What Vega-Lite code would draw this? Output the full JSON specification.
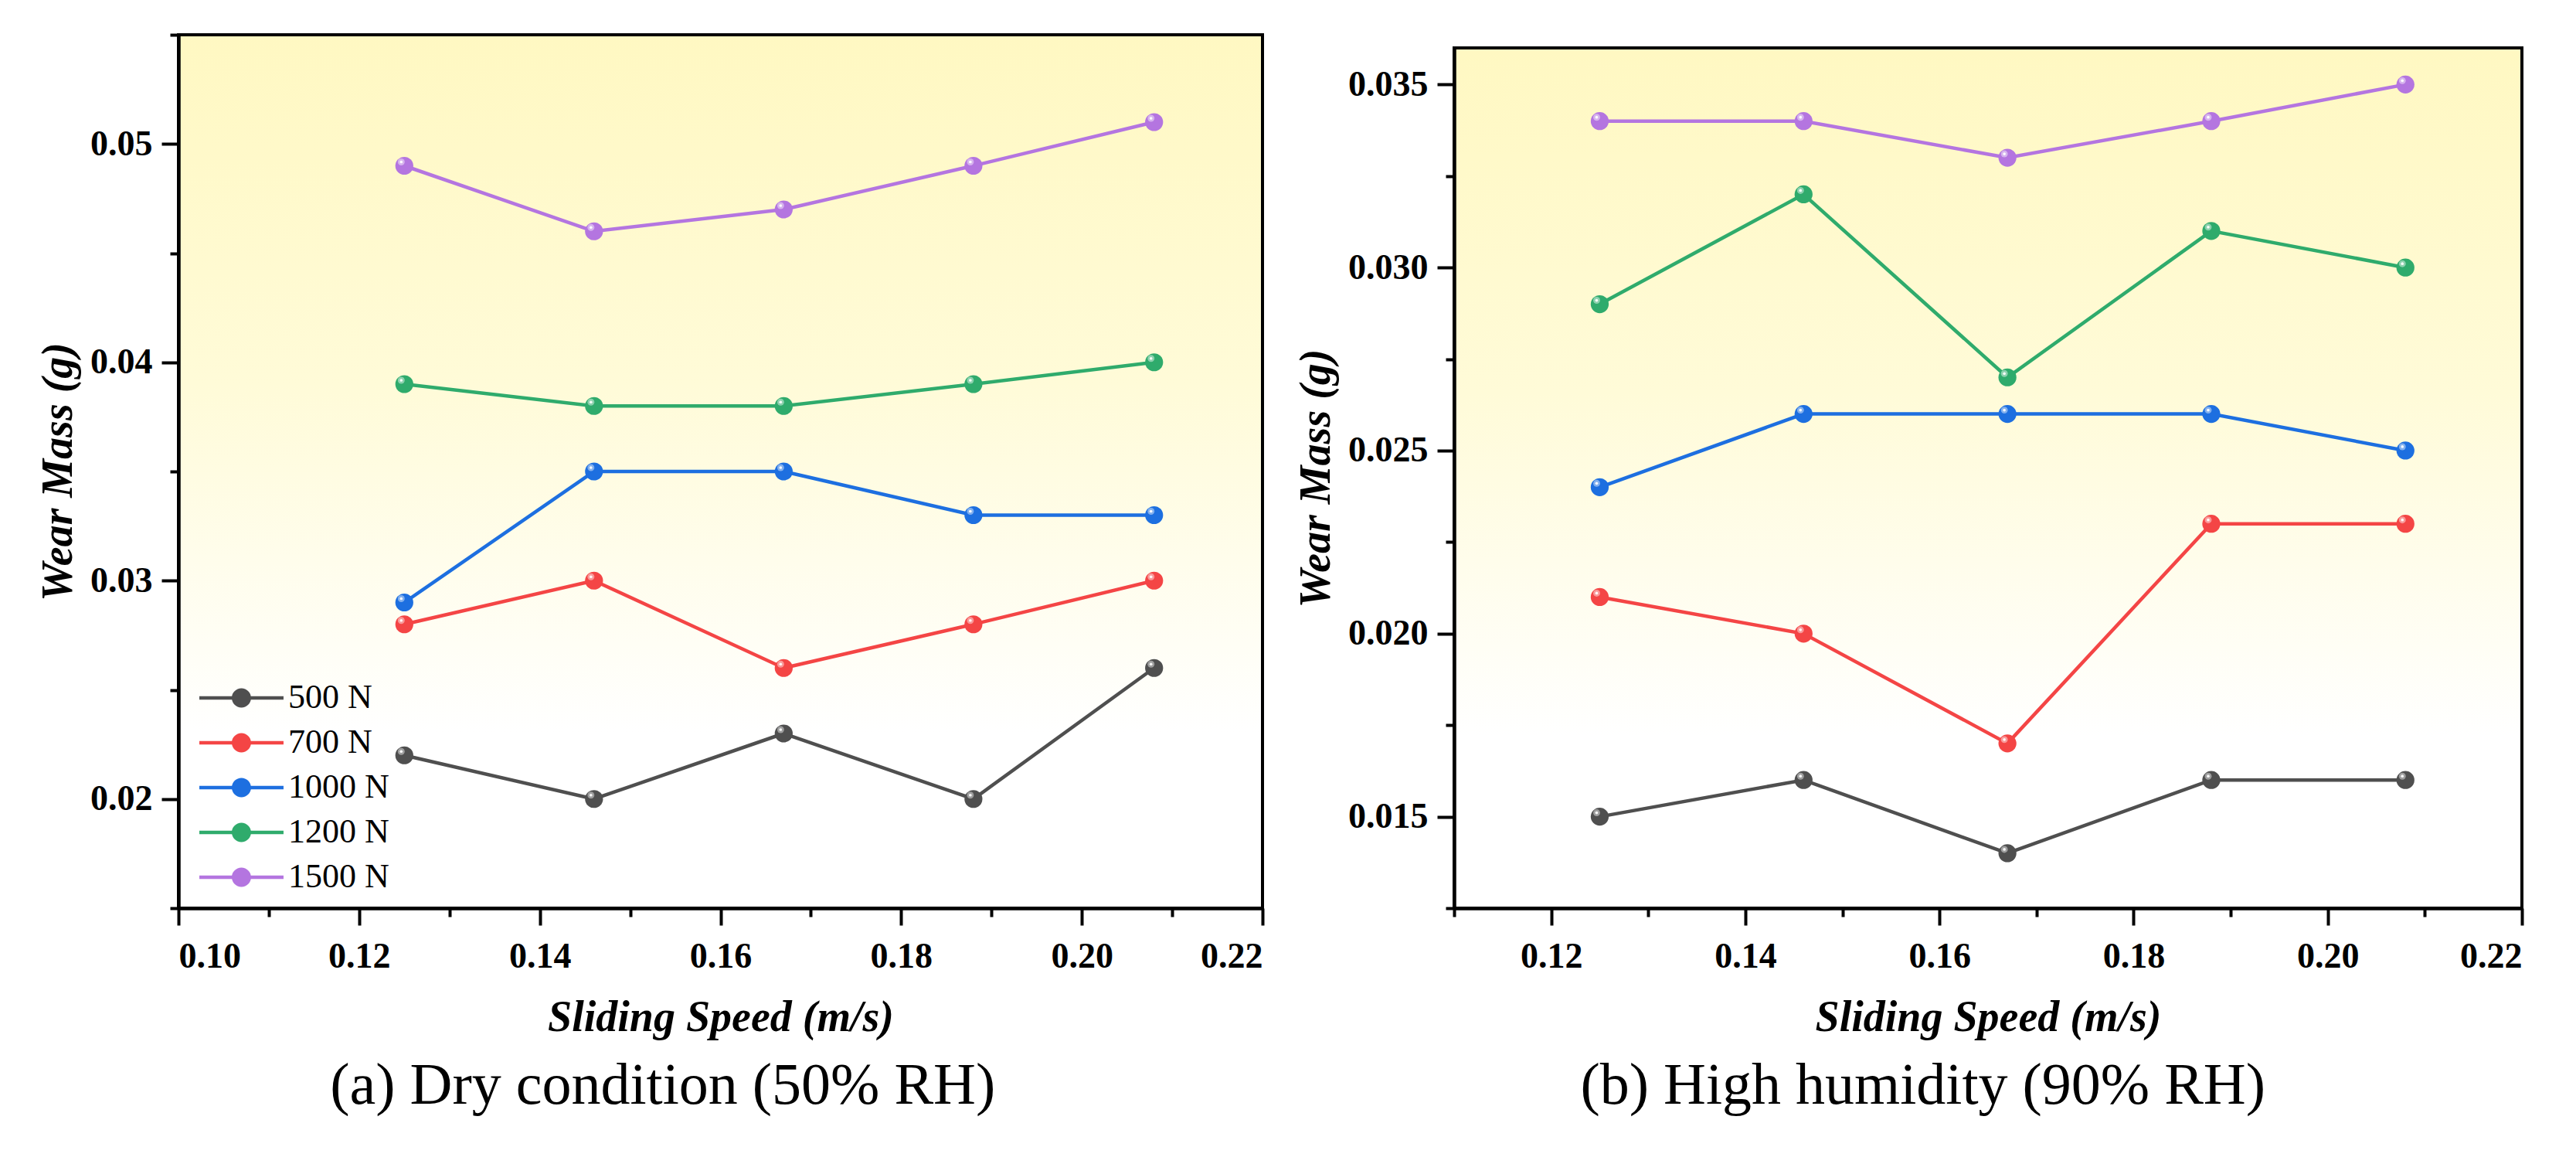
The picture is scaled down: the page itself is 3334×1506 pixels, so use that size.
{
  "$schema": "https://vega.github.io/schema/vega-lite/v6.json",
  "background": "white",
  "padding": {"left": 45, "top": 41, "right": 5, "bottom": 5},
  "datasets": {
    "dry": [
      {"speed": 0.125, "load": "500 N", "mass": 0.022},
      {"speed": 0.146, "load": "500 N", "mass": 0.020},
      {"speed": 0.167, "load": "500 N", "mass": 0.023},
      {"speed": 0.188, "load": "500 N", "mass": 0.020},
      {"speed": 0.208, "load": "500 N", "mass": 0.026},
      {"speed": 0.125, "load": "700 N", "mass": 0.028},
      {"speed": 0.146, "load": "700 N", "mass": 0.030},
      {"speed": 0.167, "load": "700 N", "mass": 0.026},
      {"speed": 0.188, "load": "700 N", "mass": 0.028},
      {"speed": 0.208, "load": "700 N", "mass": 0.030},
      {"speed": 0.125, "load": "1000 N", "mass": 0.029},
      {"speed": 0.146, "load": "1000 N", "mass": 0.035},
      {"speed": 0.167, "load": "1000 N", "mass": 0.035},
      {"speed": 0.188, "load": "1000 N", "mass": 0.033},
      {"speed": 0.208, "load": "1000 N", "mass": 0.033},
      {"speed": 0.125, "load": "1200 N", "mass": 0.039},
      {"speed": 0.146, "load": "1200 N", "mass": 0.038},
      {"speed": 0.167, "load": "1200 N", "mass": 0.038},
      {"speed": 0.188, "load": "1200 N", "mass": 0.039},
      {"speed": 0.208, "load": "1200 N", "mass": 0.040},
      {"speed": 0.125, "load": "1500 N", "mass": 0.049},
      {"speed": 0.146, "load": "1500 N", "mass": 0.046},
      {"speed": 0.167, "load": "1500 N", "mass": 0.047},
      {"speed": 0.188, "load": "1500 N", "mass": 0.049},
      {"speed": 0.208, "load": "1500 N", "mass": 0.051}
    ],
    "humid": [
      {"speed": 0.125, "load": "500 N", "mass": 0.015},
      {"speed": 0.146, "load": "500 N", "mass": 0.016},
      {"speed": 0.167, "load": "500 N", "mass": 0.014},
      {"speed": 0.188, "load": "500 N", "mass": 0.016},
      {"speed": 0.208, "load": "500 N", "mass": 0.016},
      {"speed": 0.125, "load": "700 N", "mass": 0.021},
      {"speed": 0.146, "load": "700 N", "mass": 0.020},
      {"speed": 0.167, "load": "700 N", "mass": 0.017},
      {"speed": 0.188, "load": "700 N", "mass": 0.023},
      {"speed": 0.208, "load": "700 N", "mass": 0.023},
      {"speed": 0.125, "load": "1000 N", "mass": 0.024},
      {"speed": 0.146, "load": "1000 N", "mass": 0.026},
      {"speed": 0.167, "load": "1000 N", "mass": 0.026},
      {"speed": 0.188, "load": "1000 N", "mass": 0.026},
      {"speed": 0.208, "load": "1000 N", "mass": 0.025},
      {"speed": 0.125, "load": "1200 N", "mass": 0.029},
      {"speed": 0.146, "load": "1200 N", "mass": 0.032},
      {"speed": 0.167, "load": "1200 N", "mass": 0.027},
      {"speed": 0.188, "load": "1200 N", "mass": 0.031},
      {"speed": 0.208, "load": "1200 N", "mass": 0.030},
      {"speed": 0.125, "load": "1500 N", "mass": 0.034},
      {"speed": 0.146, "load": "1500 N", "mass": 0.034},
      {"speed": 0.167, "load": "1500 N", "mass": 0.033},
      {"speed": 0.188, "load": "1500 N", "mass": 0.034},
      {"speed": 0.208, "load": "1500 N", "mass": 0.035}
    ]
  },
  "bounds": "flush",
  "spacing": 248,
  "resolve": {"legend": {"color": "independent"}},
  "hconcat": [
    {
      "width": 1403,
      "height": 1130,
      "data": {"name": "dry"},
      "title": {"text": "(a) Dry condition (50% RH)", "orient": "bottom", "anchor": "middle", "frame": "bounds", "offset": 24, "dx": 16},
      "encoding": {
        "x": {
          "field": "speed", "type": "quantitative",
          "scale": {"domain": [0.10, 0.22], "nice": false, "zero": false},
          "axis": {
            "title": "Sliding Speed (m/s)",
            "values": [0.10, 0.11, 0.12, 0.13, 0.14, 0.15, 0.16, 0.17, 0.18, 0.19, 0.20, 0.21, 0.22],
            "labelExpr": "round(datum.value*100) % 2 == 0 ? format(datum.value, '.2f') : ''",
            "tickSize": {"condition": {"test": "round(datum.value*100) % 2 == 0", "value": 22}, "value": 11}
          }
        },
        "y": {
          "field": "mass", "type": "quantitative",
          "scale": {"domain": [0.015, 0.055], "nice": false, "zero": false},
          "axis": {
            "title": "Wear Mass (g)",
            "values": [0.015, 0.02, 0.025, 0.03, 0.035, 0.04, 0.045, 0.05, 0.055],
            "labelExpr": "round(datum.value*1000) % 10 == 0 ? format(datum.value, '.2f') : ''",
            "tickSize": {"condition": {"test": "round(datum.value*1000) % 10 == 0", "value": 22}, "value": 11}
          }
        },
        "color": {
          "field": "load", "type": "nominal",
          "scale": {"domain": ["500 N", "700 N", "1000 N", "1200 N", "1500 N"], "range": ["#4f4f4f", "#f44545", "#1d6fe0", "#2fab6c", "#b475e0"]},
          "legend": {
            "orient": "bottom-left", "title": null, "offset": 18, "padding": 0,
            "symbolType": "M-1,-0.173L7.38,-0.173L7.38,0.173L-1,0.173Z M2.23,0 A0.96,0.96 0 1,1 4.15,0 A0.96,0.96 0 1,1 2.23,0 Z",
            "symbolSize": 676, "symbolStrokeWidth": 0, "symbolOpacity": 1,
            "labelFont": "Liberation Serif", "labelFontSize": 44, "labelColor": "black",
            "labelOffset": 80, "rowPadding": 14
          }
        }
      },
      "layer": [
        {"mark": {"type": "line", "strokeWidth": 4.5}},
        {"mark": {"type": "point", "filled": true, "size": 540, "opacity": 1}},
        {
          "mark": {"type": "point", "filled": true, "size": 80, "opacity": 0.45, "xOffset": -4, "yOffset": -5},
          "encoding": {"color": {"value": "white"}}
        },
        {
          "mark": {"type": "point", "filled": true, "size": 14, "opacity": 0.9, "xOffset": -4, "yOffset": -5},
          "encoding": {"color": {"value": "white"}}
        }
      ]
    },
    {
      "bounds": "flush",
      "spacing": 16,
      "vconcat": [
        {
          "width": 1382,
          "height": 1,
          "data": {"values": [{}]},
          "mark": {"type": "point", "opacity": 0, "size": 1},
          "view": {"stroke": null, "fill": null}
        },
        {
          "width": 1382,
          "height": 1113,
          "data": {"name": "humid"},
          "title": {"text": "(b) High humidity (90% RH)", "orient": "bottom", "anchor": "middle", "frame": "bounds", "offset": 24, "dx": 18},
          "encoding": {
            "x": {
              "field": "speed", "type": "quantitative",
              "scale": {"domain": [0.11, 0.22], "nice": false, "zero": false},
              "axis": {
                "title": "Sliding Speed (m/s)",
                "values": [0.11, 0.12, 0.13, 0.14, 0.15, 0.16, 0.17, 0.18, 0.19, 0.20, 0.21, 0.22],
                "labelExpr": "round(datum.value*100) % 2 == 0 ? format(datum.value, '.2f') : ''",
                "tickSize": {"condition": {"test": "round(datum.value*100) % 2 == 0", "value": 22}, "value": 11}
              }
            },
            "y": {
              "field": "mass", "type": "quantitative",
              "scale": {"domain": [0.0125, 0.036], "nice": false, "zero": false},
              "axis": {
                "title": "Wear Mass (g)",
                "values": [0.0125, 0.015, 0.0175, 0.02, 0.0225, 0.025, 0.0275, 0.03, 0.0325, 0.035],
                "labelExpr": "round(datum.value*10000) % 50 == 0 ? format(datum.value, '.3f') : ''",
                "tickSize": {"condition": {"test": "round(datum.value*10000) % 50 == 0", "value": 22}, "value": 11}
              }
            },
            "color": {"field": "load", "type": "nominal", "legend": null}
          },
          "layer": [
            {"mark": {"type": "line", "strokeWidth": 4.5}},
            {"mark": {"type": "point", "filled": true, "size": 540, "opacity": 1}},
            {
              "mark": {"type": "point", "filled": true, "size": 80, "opacity": 0.45, "xOffset": -4, "yOffset": -5},
              "encoding": {"color": {"value": "white"}}
            },
            {
              "mark": {"type": "point", "filled": true, "size": 14, "opacity": 0.9, "xOffset": -4, "yOffset": -5},
              "encoding": {"color": {"value": "white"}}
            }
          ]
        }
      ]
    }
  ],
  "config": {
    "font": "Liberation Serif",
    "view": {
      "stroke": "black",
      "strokeWidth": 4,
      "fill": {
        "gradient": "linear", "x1": 0, "y1": 0, "x2": 0, "y2": 1,
        "stops": [
          {"offset": 0, "color": "#fff8c2"},
          {"offset": 0.4, "color": "#fffbd8"},
          {"offset": 0.8, "color": "#ffffff"},
          {"offset": 1, "color": "#ffffff"}
        ]
      }
    },
    "axis": {
      "grid": false,
      "domainColor": "black",
      "domainWidth": 4.5,
      "tickColor": "black",
      "tickWidth": 4,
      "labelFont": "Liberation Serif",
      "labelFontWeight": "bold",
      "labelFontSize": 46,
      "labelColor": "black",
      "titleFont": "Times New Roman, Liberation Serif, serif",
      "titleFontWeight": "bold",
      "titleFontStyle": "italic",
      "titleFontSize": 56,
      "titleColor": "black"
    },
    "axisX": {"labelPadding": 18, "titlePadding": 29},
    "axisY": {"labelPadding": 12, "titlePadding": 12},
    "title": {"font": "Liberation Serif", "fontSize": 76, "fontWeight": "normal", "color": "black"}
  }
}
